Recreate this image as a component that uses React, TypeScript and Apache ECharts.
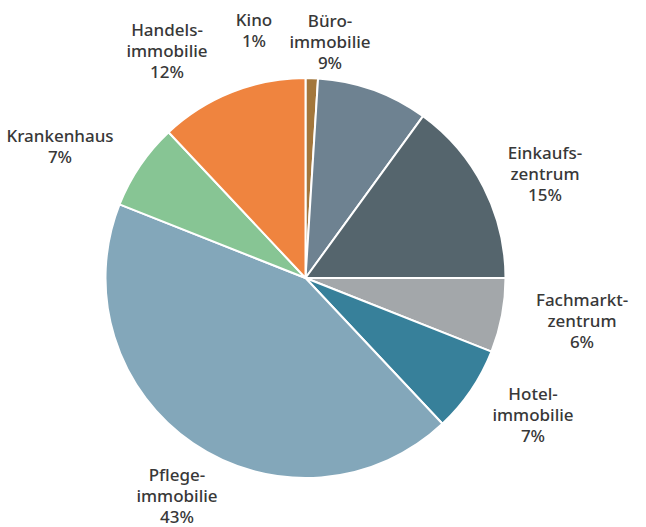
import React, { useEffect, useRef } from "react";
import * as echarts from "echarts";

const categories = [
  "Kino",
  "Büro-\nimmobilie",
  "Einkaufs-\nzentrum",
  "Fachmarkt-\nzentrum",
  "Hotel-\nimmobilie",
  "Pflege-\nimmobilie",
  "Krankenhaus",
  "Handels-\nimmobilie",
];
const shares = [1, 9, 15, 6, 7, 43, 7, 12];
const colors = [
  "#a3773c",
  "#6e8291",
  "#55656d",
  "#a3a7aa",
  "#37809a",
  "#83a7ba",
  "#87c594",
  "#ef843f",
];
// label anchor points (centre of each text block)
const labelX = [254, 330, 545, 582, 533, 177, 60, 167];
const labelY = [30, 41, 173, 320, 414, 495, 146, 50];

export default function App() {
  const ref = useRef<HTMLDivElement>(null);
  useEffect(() => {
    if (!ref.current) return;
    const chart = echarts.init(ref.current, null, { renderer: "svg" });
    chart.setOption({
      animation: false,
      backgroundColor: "#ffffff",
      series: [
        {
          type: "pie",
          center: [305.5, 278],
          radius: 200,
          startAngle: 90,
          clockwise: true,
          avoidLabelOverlap: false,
          itemStyle: { borderColor: "#ffffff", borderWidth: 2 },
          label: {
            show: true,
            position: "outside",
            formatter: (p: any) => `${p.name}\n${p.value}%`,
            color: "#383838",
            fontFamily: "Noto Sans",
            fontWeight: 500,
            fontSize: 17,
            lineHeight: 21,
            align: "center",
          },
          labelLine: { show: false },
          labelLayout: (p: any) => ({
            x: labelX[p.dataIndex],
            y: labelY[p.dataIndex],
            align: "center",
            verticalAlign: "middle",
          }),
          data: categories.map((name, i) => ({
            name,
            value: shares[i],
            itemStyle: { color: colors[i] },
          })),
        },
      ],
    });
    return () => chart.dispose();
  }, []);
  return (
    <div
      ref={ref}
      style={{ position: "absolute", left: 0, top: 0, width: 646, height: 527 }}
    />
  );
}
